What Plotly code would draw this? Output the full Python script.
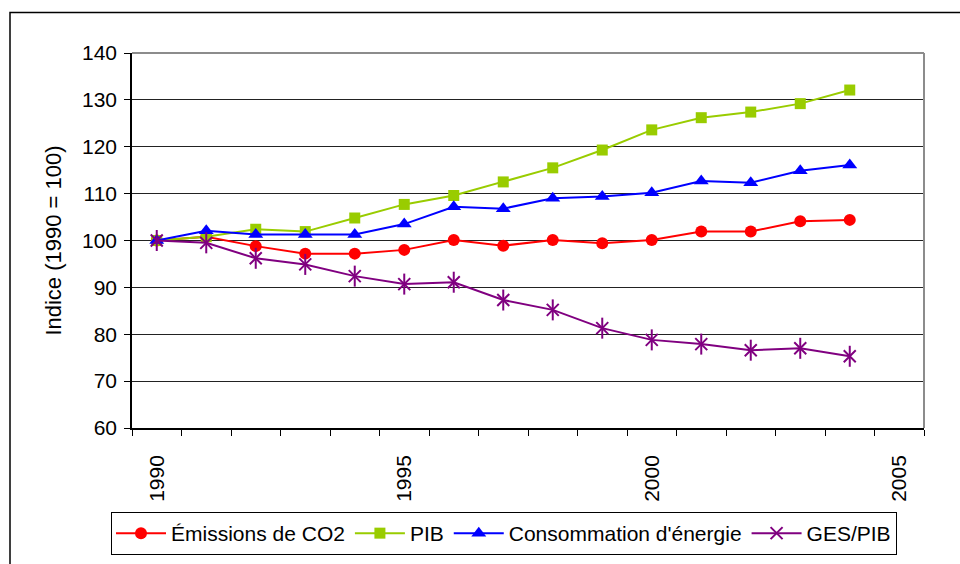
import plotly.graph_objects as go

# Indices annuels (base 1990 = 100)
annees = list(range(1990, 2005))
emissions_co2 = [100, 100.8, 98.8, 97.2, 97.2, 98.0, 100.1, 98.9, 100.1, 99.4, 100.1, 101.9, 101.9, 104.1, 104.4]
pib = [100, 100.8, 102.4, 101.9, 104.8, 107.7, 109.6, 112.5, 115.5, 119.3, 123.6, 126.2, 127.4, 129.2, 132.1]
consommation_energie = [100, 102.1, 101.3, 101.3, 101.3, 103.5, 107.2, 106.8, 109.0, 109.4, 110.2, 112.7, 112.3, 114.9, 116.1]
ges_pib = [100, 99.5, 96.2, 94.9, 92.4, 90.7, 91.1, 87.3, 85.2, 81.3, 78.8, 77.9, 76.6, 77.0, 75.3]

annees_affichees = [1990, 1995, 2000, 2005]
graduations_y = [60, 70, 80, 90, 100, 110, 120, 130, 140]

FONT = "Liberation Sans, Arial, sans-serif"
W, H = 960, 564
L, R, T, B = 132, 36, 53, 136

fig = go.Figure()

fig.add_trace(go.Scatter(
    x=annees, y=emissions_co2, name="Émissions de CO2", mode="lines+markers",
    line=dict(color="#FF0000", width=2),
    marker=dict(symbol="circle", size=12, color="#FF0000"),
))
fig.add_trace(go.Scatter(
    x=annees, y=pib, name="PIB", mode="lines+markers",
    line=dict(color="#99CC00", width=2),
    marker=dict(symbol="square", size=11, color="#99CC00"),
))
fig.add_trace(go.Scatter(
    x=annees, y=consommation_energie, name="Consommation d'énergie", mode="lines+markers",
    line=dict(color="#0000FF", width=2),
    marker=dict(symbol="triangle-up", size=13, color="#0000FF"),
))
# Étoile : croix diagonale + trait vertical
fig.add_trace(go.Scatter(
    x=annees, y=ges_pib, name="GES/PIB", mode="lines+markers", legendgroup="ges",
    line=dict(color="#800080", width=2),
    marker=dict(symbol="x-thin-open", size=12, color="#800080", line=dict(width=2, color="#800080")),
))
fig.add_trace(go.Scatter(
    x=annees, y=ges_pib, mode="markers", legendgroup="ges", showlegend=False,
    marker=dict(symbol="line-ns-open", size=15, color="#800080", line=dict(width=2, color="#800080")),
    hoverinfo="skip",
))

fig.update_layout(
    width=W, height=H,
    margin=dict(l=L, r=R, t=T, b=B, autoexpand=False),
    paper_bgcolor="white", plot_bgcolor="white",
    font=dict(family=FONT, size=21, color="black"),
    showlegend=True,
    legend=dict(
        orientation="h", xref="container", xanchor="center", x=504 / W,
        yref="container", yanchor="top", y=1 - 512 / H,
        bordercolor="black", borderwidth=1, bgcolor="white",
        font=dict(family=FONT, size=21, color="black"),
        itemwidth=50, tracegroupgap=0,
    ),
    xaxis=dict(
        range=[1989.5, 2005.5],
        tickmode="array", tickvals=annees_affichees, ticktext=[str(a) for a in annees_affichees],
        tickangle=-90, ticks="", ticklabelstandoff=17,
        showgrid=False, zeroline=False,
        showline=True, linecolor="black", linewidth=1.5,
        minor=dict(ticks="outside", tick0=1989.5, dtick=1, ticklen=6, tickcolor="black", tickwidth=1, showgrid=False),
        tickfont=dict(family=FONT, size=21, color="black"),
    ),
    yaxis=dict(
        range=[60, 140], tickvals=graduations_y,
        ticks="outside", ticklen=6, tickcolor="black", tickwidth=1,
        showgrid=True, gridcolor="#222222", gridwidth=1,
        zeroline=False, showline=True, linecolor="black", linewidth=1.5,
        ticklabelstandoff=3,
        tickfont=dict(family=FONT, size=21, color="black"),
        title=dict(text="Indice (1990 = 100)", standoff=14, font=dict(family=FONT, size=22, color="black")),
    ),
)

# Bordure grise de la zone de tracé (haut et droite)
fig.add_shape(type="line", xref="paper", yref="paper", x0=0, x1=1, y0=1, y1=1,
              line=dict(color="#8c8c8c", width=2), layer="above")
fig.add_shape(type="line", xref="paper", yref="paper", x0=1, x1=1, y0=0, y1=1,
              line=dict(color="#8c8c8c", width=2), layer="above")

# Cadre extérieur du graphique
pw, ph = W - L - R, H - T - B
def px_x(v):
    return (v - L) / pw
def px_y(v):
    return (H - B - v) / ph
fig.add_shape(type="rect", xref="paper", yref="paper",
              x0=px_x(10), x1=px_x(980), y0=px_y(590), y1=px_y(12.5),
              line=dict(color="black", width=1.5), layer="below")

fig.write_html("out.html")
